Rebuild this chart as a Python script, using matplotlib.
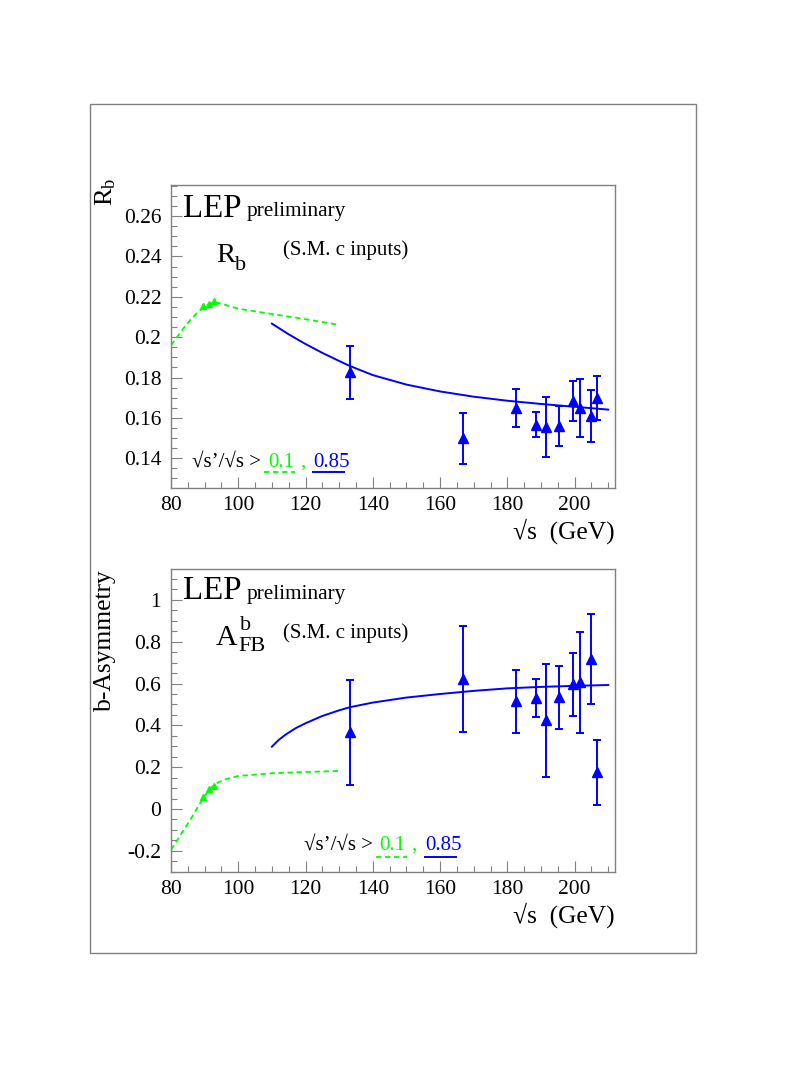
import matplotlib
matplotlib.use("Agg")
import matplotlib.pyplot as plt
from matplotlib.patches import Rectangle
from matplotlib.ticker import MultipleLocator, FuncFormatter

W, H = 785, 1090
SERIF = ["Liberation Serif", "DejaVu Serif"]
plt.rcParams["font.family"] = SERIF
plt.rcParams["mathtext.fontset"] = "custom"
plt.rcParams["mathtext.rm"] = "Liberation Serif"
plt.rcParams["mathtext.it"] = "Liberation Serif:italic"

GREEN = "#00ff00"
BLUE = "#0000ff"
FRAME = "#808080"

# LEP2 energy points (GeV)
ECM = [133.2, 166.7, 182.7, 188.6, 191.6, 195.5, 199.5, 201.6, 204.9, 206.6]
RB = [0.1826, 0.1498, 0.1650, 0.1567, 0.1554, 0.1559, 0.1686, 0.1650, 0.1609, 0.1698]
RB_ERR = [0.0132, 0.0126, 0.0094, 0.0060, 0.0149, 0.0098, 0.0099, 0.0144, 0.0127, 0.0108]
AFB = [0.366, 0.623, 0.515, 0.531, 0.424, 0.534, 0.596, 0.606, 0.716, 0.175]
AFB_ERR = [0.251, 0.253, 0.150, 0.089, 0.269, 0.151, 0.150, 0.241, 0.215, 0.156]

# LEP1 points (sqrt(s')/sqrt(s) > 0.1)
ECM_Z = [89.6, 91.2, 92.8]
RB_Z = [0.2152, 0.2166, 0.2181]
AFB_Z = [0.056, 0.094, 0.110]

# SM predictions
SM_LO_X = [80, 82, 84, 86, 88, 90, 92, 93, 95, 100, 110, 120, 130]
SM_LO_RB = [0.196, 0.2005, 0.205, 0.209, 0.2125, 0.2153, 0.2168, 0.2172, 0.2166, 0.2141,
            0.2115, 0.2089, 0.2061]
SM_LO_AX = [80, 82, 84, 86, 88, 90, 92, 94, 96, 100, 110, 120, 130]
SM_LO_AFB = [-0.196, -0.145, -0.095, -0.045, 0.010, 0.063, 0.103, 0.127, 0.141, 0.158,
             0.171, 0.177, 0.182]
SM_HI_X = [110, 115, 120, 125, 130, 133.2, 140, 150, 160, 170, 180, 190, 200, 210]
SM_HI_RB = [0.2067, 0.2014, 0.1966, 0.1922, 0.1882, 0.1857, 0.1812, 0.1765, 0.1731,
            0.1705, 0.1685, 0.1669, 0.1655, 0.1641]
SM_HI_AX = [110, 112, 114, 117, 120, 125, 130, 133.2, 140, 150, 160, 170, 180, 190, 200, 210]
SM_HI_AFB = [0.298, 0.330, 0.355, 0.386, 0.410, 0.445, 0.472, 0.487, 0.509, 0.533, 0.550,
             0.565, 0.577, 0.584, 0.589, 0.593]


def px(x, y):
    return x / W, 1 - y / H


def ftext(fig, x, y, s, **kw):
    kw.setdefault("va", "baseline")
    kw.setdefault("ha", "left")
    fx, fy = px(x, y)
    fig.text(fx, fy, s, **kw)


def style_axes(ax, ylo, yhi, ymaj, ymin):
    ax.set_xlim(80, 212.1)
    ax.set_ylim(ylo, yhi)
    ax.xaxis.set_major_locator(MultipleLocator(20))
    ax.xaxis.set_minor_locator(MultipleLocator(5))
    ax.yaxis.set_major_locator(MultipleLocator(ymaj))
    ax.yaxis.set_minor_locator(MultipleLocator(ymin))
    fmt = FuncFormatter(lambda v, p: "%g" % round(v, 4))
    ax.xaxis.set_major_formatter(fmt)
    ax.yaxis.set_major_formatter(fmt)
    ax.tick_params(which="both", direction="in", color=FRAME, width=0.8,
                   labelsize=15.5, top=False, right=False)
    ax.tick_params(which="major", length=8)
    ax.tick_params(which="minor", length=4.3)
    ax.tick_params(axis="x", pad=6)
    ax.tick_params(axis="y", pad=7)
    for sp in ax.spines.values():
        sp.set_color(FRAME)
        sp.set_linewidth(1.0)


fig = plt.figure(figsize=(W / 100, H / 100), dpi=100)
fig.patches.append(Rectangle(px(90, 952.7), (696 - 90) / W, (952.7 - 104.3) / H,
                             transform=fig.transFigure, fill=False,
                             edgecolor=FRAME, linewidth=1.0))

ax1 = fig.add_axes([171 / W, 1 - 487.7 / H, 444.3 / W, 302.7 / H])
ax2 = fig.add_axes([171 / W, 1 - 871.7 / H, 444.3 / W, 302.7 / H])

dash = (0, (3, 2))

# ---- R_b panel
ax1.plot(SM_LO_X, SM_LO_RB, color=GREEN, lw=1.3, ls=dash)
ax1.plot(SM_HI_X, SM_HI_RB, color=BLUE, lw=1.4)
ax1.plot(ECM_Z, RB_Z, ls="none", marker="^", ms=5, color=GREEN)
ax1.errorbar(ECM, RB, yerr=RB_ERR, fmt="^", ms=6.5, color=BLUE, ecolor=BLUE,
             elinewidth=1.4, capsize=3.1, capthick=1.4)
style_axes(ax1, 0.1254, 0.2754, 0.02, 0.005)

# ---- A_FB panel
ax2.plot(SM_LO_AX, SM_LO_AFB, color=GREEN, lw=1.3, ls=dash)
ax2.plot(SM_HI_AX, SM_HI_AFB, color=BLUE, lw=1.4)
ax2.plot(ECM_Z, AFB_Z, ls="none", marker="^", ms=5, color=GREEN)
ax2.errorbar(ECM, AFB, yerr=AFB_ERR, fmt="^", ms=6.5, color=BLUE, ecolor=BLUE,
             elinewidth=1.4, capsize=3.1, capthick=1.4)
style_axes(ax2, -0.3, 1.148, 0.2, 0.05)

# ---- axis titles
ftext(fig, 93, 178, r"$\mathrm{R}_{\mathrm{b}}$", fontsize=19, rotation=90,
      ha="left", va="top")
ftext(fig, 94, 569, "b-Asymmetry", fontsize=18.4, rotation=90, ha="left", va="top")
ftext(fig, 615, 539, "\u221as  (GeV)", fontsize=18.4, ha="right")
ftext(fig, 615, 922.5, "\u221as  (GeV)", fontsize=18.4, ha="right")

# ---- in-panel labels
for y0 in (216.7, 599.3):
    ftext(fig, 183.3, y0, "LEP", fontsize=23.7)
    ftext(fig, 247, y0 - 0.5, "preliminary", fontsize=15.3)

ftext(fig, 215.9, 261.7, "R", fontsize=20.5)
ftext(fig, 235, 270, "b", fontsize=16)
ftext(fig, 283, 255, "(S.M. c inputs)", fontsize=15)

ftext(fig, 215.9, 645, "A", fontsize=21.5)
ftext(fig, 240, 630, "b", fontsize=16)
ftext(fig, 238.3, 650.7, "FB", fontsize=16)
ftext(fig, 283, 638.3, "(S.M. c inputs)", fontsize=15)

# ---- cut legend
for (x0, xg, xc, xb, xb1, yb, yl) in [(191.7, 268, 300.5, 313, 344, 466.7, 472.3),
                                       (303.8, 379.7, 411.5, 425, 456, 850, 856.7)]:
    ftext(fig, x0, yb, "\u221as\u2019/\u221as >", fontsize=15)
    ftext(fig, xg, yb, "0.1", fontsize=15, color=GREEN)
    ftext(fig, xc, yb, ",", fontsize=15, color=GREEN)
    ftext(fig, xb, yb, "0.85", fontsize=15, color=BLUE)
    gx0, gy = px(xg - 4, yl)
    gx1, _ = px(xg + 27, yl)
    fig.add_artist(plt.Line2D([gx0, gx1], [gy, gy], color=GREEN, lw=1.3, ls=dash,
                              transform=fig.transFigure))
    bx0, by = px(xb - 0.5, yl)
    bx1, _ = px(xb1, yl)
    fig.add_artist(plt.Line2D([bx0, bx1], [by, by], color=BLUE, lw=1.4,
                              transform=fig.transFigure))

fig.savefig("out.png", dpi=100, facecolor="white")
